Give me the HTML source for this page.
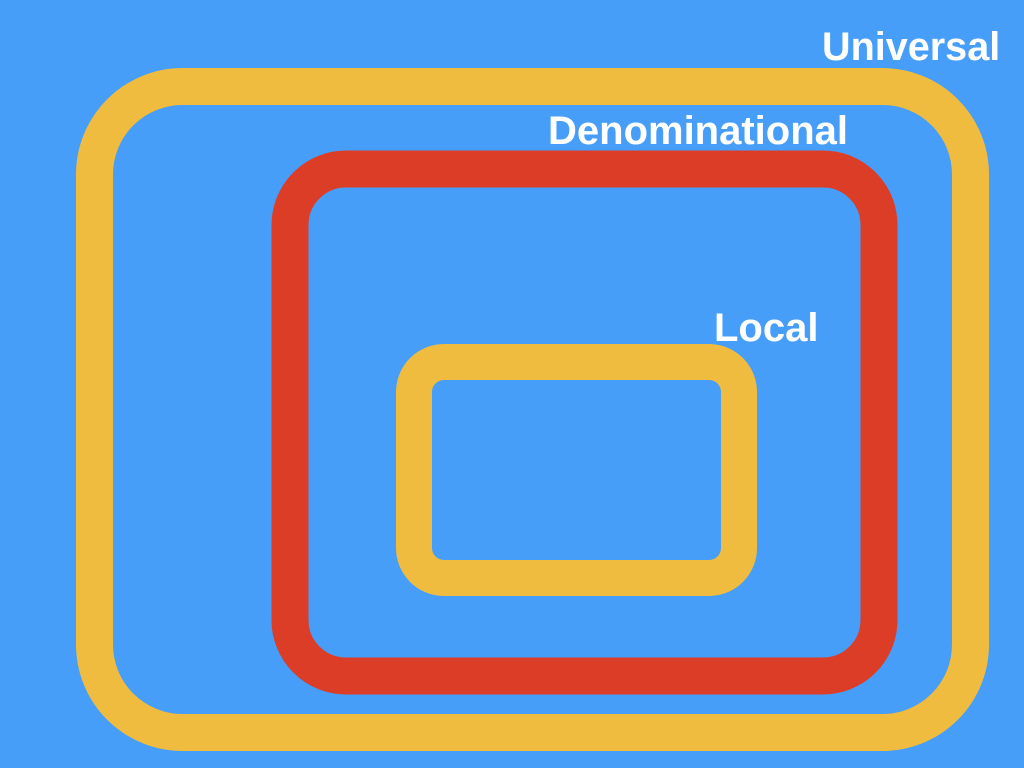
<!DOCTYPE html>
<html><head><meta charset="utf-8"><style>
html,body{margin:0;padding:0;background:#479ef8;}
svg{display:block}
text{font-family:"Liberation Sans",Arial,sans-serif;font-weight:bold;fill:#fff}
</style></head><body>
<svg width="1024" height="768" viewBox="0 0 1024 768">
<rect width="1024" height="768" fill="#479ef8"/>
<rect x="94.5" y="86.5" width="876" height="646" rx="88" ry="88" fill="none" stroke="#efbc3f" stroke-width="37"/>
<rect x="290" y="169" width="589" height="507" rx="56" ry="56" fill="none" stroke="#db3d27" stroke-width="37"/>
<rect x="414" y="362" width="325" height="216" rx="30" ry="30" fill="none" stroke="#efbc3f" stroke-width="36"/>
<text x="822" y="60" font-size="39.6">Universal</text>
<text x="548" y="144" font-size="40">Denominational</text>
<text x="714" y="341" font-size="40">Local</text>
</svg>
</body></html>
